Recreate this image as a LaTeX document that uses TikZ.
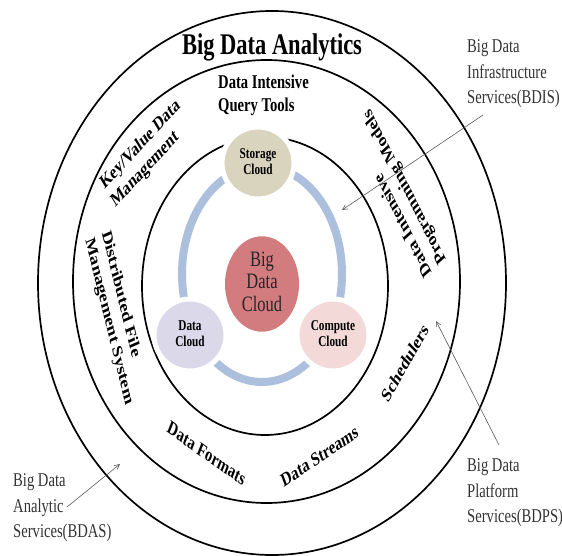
\documentclass[tikz,border=0pt]{standalone}
\usepackage{fontspec}
\setmainfont{Liberation Serif}
\usepackage{tikz}
\usetikzlibrary{arrows.meta,shapes.geometric}

\definecolor{ringblue}{RGB}{172,192,222}
\definecolor{storagefill}{RGB}{217,212,190}
\definecolor{datafill}{RGB}{219,217,233}
\definecolor{computefill}{RGB}{243,217,215}
\definecolor{bigfill}{RGB}{210,124,128}

% text in the figure is narrowed, as in the source image
\newcommand{\sqz}[1]{\scalebox{0.75}[1]{#1}}
\newcommand{\tiltlabel}[2]{\sqz{\rotatebox{#1}{\begin{tabular}{@{}l@{}}#2\end{tabular}}}}

\begin{document}
\begin{tikzpicture}[x=1pt,y=-1pt,
    ring/.style={line width=1.7pt},
    ringlabel/.style={inner sep=0pt,font=\fontsize{19.5}{23}\selectfont\bfseries},
    cloud/.style={circle,minimum size=72pt,inner sep=0pt,draw=white,line width=5pt,font=\fontsize{15}{16}\selectfont\bfseries},
    sidelabel/.style={anchor=west,inner sep=0pt,text=black!80,font=\fontsize{19.5}{25.5}\selectfont},
    pointer/.style={draw=black!65,line width=0.6pt,-{Straight Barb[length=5pt,width=5pt]}}
    ]
\useasboundingbox (0,0) rectangle (562,556);

% the three service layers
\draw[ring] (272,283) ellipse [x radius=234, y radius=272];
\draw[ring] (266.5,281.5) ellipse [x radius=193.5, y radius=221.5];
\draw[ring] (265,286) ellipse [x radius=123, y radius=149];

% cloud ring
\draw[ringblue,line width=8pt] (262,274) ellipse [x radius=80, y radius=108];
\node[cloud,fill=storagefill] (storage) at (258,163) {\sqz{\begin{tabular}{@{}c@{}}Storage\\Cloud\end{tabular}}};
\node[cloud,fill=datafill] (data) at (190,335) {\sqz{\begin{tabular}{@{}c@{}}Data\\Cloud\end{tabular}}};
\node[cloud,fill=computefill] (compute) at (333,335) {\sqz{\begin{tabular}{@{}c@{}}Compute\\Cloud\end{tabular}}};
\node[ellipse,fill=bigfill,minimum width=74pt,minimum height=84pt,inner sep=0pt,
      text=black!85,font=\fontsize{22}{22.5}\selectfont] (bigcloud) at (262,284)
      {\sqz{\begin{tabular}{@{}c@{}}Big\\Data\\Cloud\end{tabular}}};

% layer texts
\node[inner sep=0pt,anchor=base,font=\fontsize{30}{32}\selectfont\bfseries] (title) at (272,55) {\sqz{Big Data Analytics}};
\node[ringlabel,anchor=west] (query) at (218,95) {\sqz{\begin{tabular}{@{}l@{}}Data Intensive\\Query Tools\end{tabular}}};
\node[ringlabel] (keyvalue) at (146,154) {\tiltlabel{39}{Key/Value Data\\Management}};
\node[ringlabel] (dfs) at (117,318) {\tiltlabel{-72}{Distributed File\\Management System}};
\node[ringlabel] (progmodels) at (398,193) {\tiltlabel{124}{Data Intensive\\Programming Models}};
\node[ringlabel] (sched) at (406,364) {\tiltlabel{53}{Schedulers}};
\node[ringlabel] (formats) at (206,455) {\tiltlabel{-28}{Data Formats}};
\node[ringlabel] (streams) at (320,458) {\tiltlabel{27}{Data Streams}};

% service labels
\node[sidelabel] (bdis) at (467,73) {\sqz{\begin{tabular}{@{}l@{}}Big Data\\Infrastructure\\Services(BDIS)\end{tabular}}};
\node[sidelabel] (bdps) at (467,492) {\sqz{\begin{tabular}{@{}l@{}}Big Data\\Platform\\Services(BDPS)\end{tabular}}};
\node[sidelabel] (bdas) at (13,507) {\sqz{\begin{tabular}{@{}l@{}}Big Data\\Analytic\\Services(BDAS)\end{tabular}}};

\coordinate (bdis-tail) at (483,115);
\coordinate (bdis-tip) at (342,210);
\coordinate (bdps-tail) at (499,445);
\coordinate (bdps-tip) at (436,321);
\coordinate (bdas-tail) at (67,507);
\coordinate (bdas-tip) at (120,464);
\draw[pointer] (bdis-tail) -- (bdis-tip);
\draw[pointer] (bdps-tail) -- (bdps-tip);
\draw[pointer] (bdas-tail) -- (bdas-tip);
\end{tikzpicture}
\end{document}
